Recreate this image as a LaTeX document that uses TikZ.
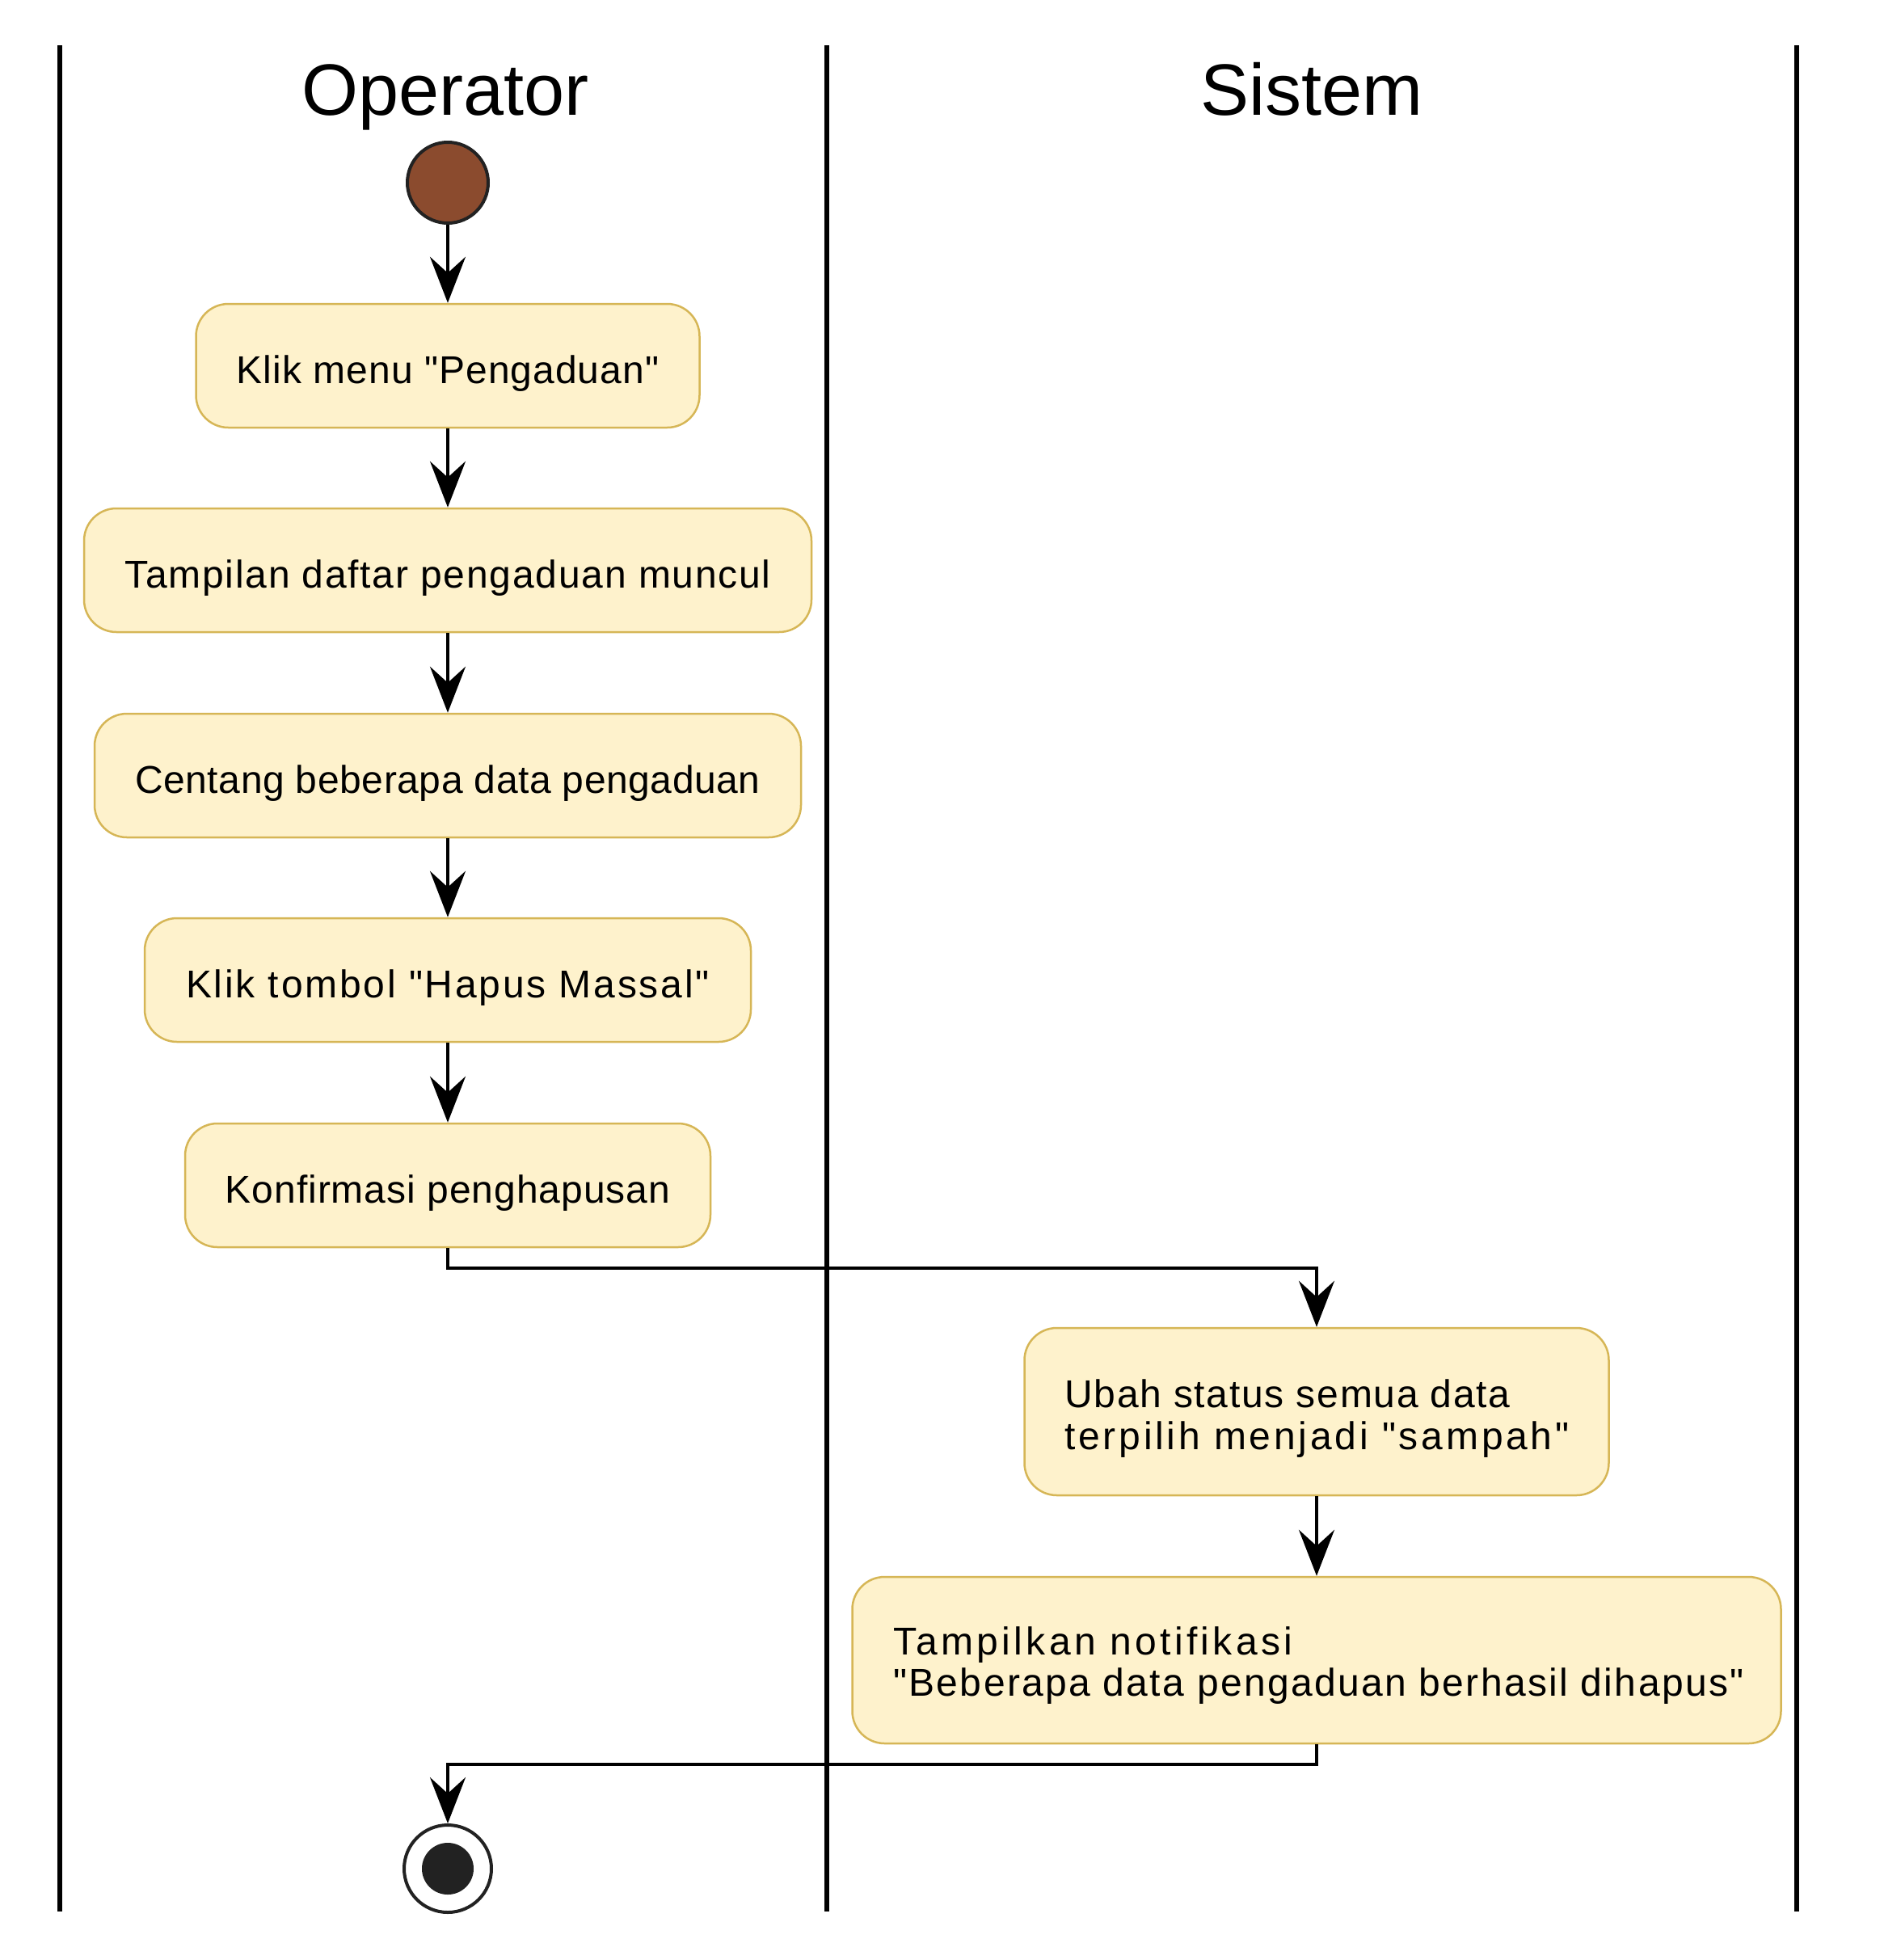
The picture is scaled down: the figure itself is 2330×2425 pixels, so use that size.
\documentclass[tikz,border=0pt]{standalone}
\usepackage{fontspec}
\setmainfont{Liberation Sans}
\newfontfamily\boxfont{Liberation Sans}
\usetikzlibrary{arrows.meta}
\definecolor{actfill}{RGB}{254,242,204}
\definecolor{actdraw}{RGB}{214,182,86}
\definecolor{startfill}{RGB}{139,75,46}
\definecolor{ink}{RGB}{34,34,34}
\newcommand{\trk}[1]{\addfontfeature{LetterSpace=#1}}
\begin{document}
\begin{tikzpicture}[x=1pt,y=-1pt,
  lane/.style={line width=6pt,black},
  act/.style={draw=actdraw,fill=actfill,line width=2.5pt,rounded corners=40pt,inner sep=0pt,
    font=\boxfont\fontsize{48}{50}\selectfont,text height=43pt,text depth=0pt},
  acttxt/.style={font=\boxfont\fontsize{48}{50}\selectfont,anchor=base west,inner sep=0pt},
  flow/.style={line width=4pt,black,-{Stealth[length=57pt,width=44pt,inset=20pt]}},
  hdr/.style={font=\fontsize{90}{100}\selectfont,anchor=base,inner sep=0pt}]
\useasboundingbox[fill=white] (0,0) rectangle (2330,2425);
% swimlanes
\draw[lane] (74,56) -- (74,2365);
\draw[lane] (1023,56) -- (1023,2365);
\draw[lane] (2223,56) -- (2223,2365);
\node[hdr] (hop) at (551,142) {Operator};
\node[hdr] (hsy) at (1623,142) {Sistem};
% start
\node[circle,draw=ink,fill=startfill,line width=4pt,minimum size=100pt,inner sep=0pt] (start) at (554,226) {};
% activities
\node[act,minimum width=623pt,minimum height=153pt] (a1) at (554,452.5) {\trk{2.2}Klik menu "Pengaduan"};
\node[act,minimum width=900pt,minimum height=153pt] (a2) at (554,705.5) {\trk{3.7}Tampilan daftar pengaduan muncul};
\node[act,minimum width=874pt,minimum height=153pt] (a3) at (554,959.5) {\trk{1.2}Centang beberapa data pengaduan};
\node[act,minimum width=750pt,minimum height=153pt] (a4) at (554,1212.5) {\trk{5.8}Klik tombol "Hapus Massal"};
\node[act,minimum width=650pt,minimum height=153pt] (a5) at (554,1466.5) {\trk{2.0}Konfirmasi penghapusan};
\node[act,minimum width=723pt,minimum height=207pt] (a6) at (1629,1746.5) {};
\node[acttxt] (a6l1) at (1317,1741) {\trk{3.6}Ubah status semua data};
\node[acttxt] (a6l2) at (1317,1793) {\trk{7.9}terpilih menjadi "sampah"};
\node[act,minimum width=1149pt,minimum height=206pt] (a7) at (1629,2054) {};
\node[acttxt] (a7l1) at (1105,2047) {\trk{9.0}Tampilkan notifikasi};
\node[acttxt] (a7l2) at (1105,2098) {\trk{4.9}"Beberapa data pengaduan berhasil dihapus"};
% end
\node[circle,draw=ink,fill=white,line width=4pt,minimum size=108pt,inner sep=0pt] (end) at (554,2312) {};
\node[circle,fill=ink,minimum size=64pt,inner sep=0pt] (endin) at (end) {};
% flows
\draw[flow] (start.south) -- (a1.north);
\draw[flow] (a1.south) -- (a2.north);
\draw[flow] (a2.south) -- (a3.north);
\draw[flow] (a3.south) -- (a4.north);
\draw[flow] (a4.south) -- (a5.north);
\draw[flow] (a5.south) -- ++(0,25) -| (a6.north);
\draw[flow] (a6.south) -- (a7.north);
\draw[flow] (a7.south) -- ++(0,25) -| (end.north);
\end{tikzpicture}
\end{document}
